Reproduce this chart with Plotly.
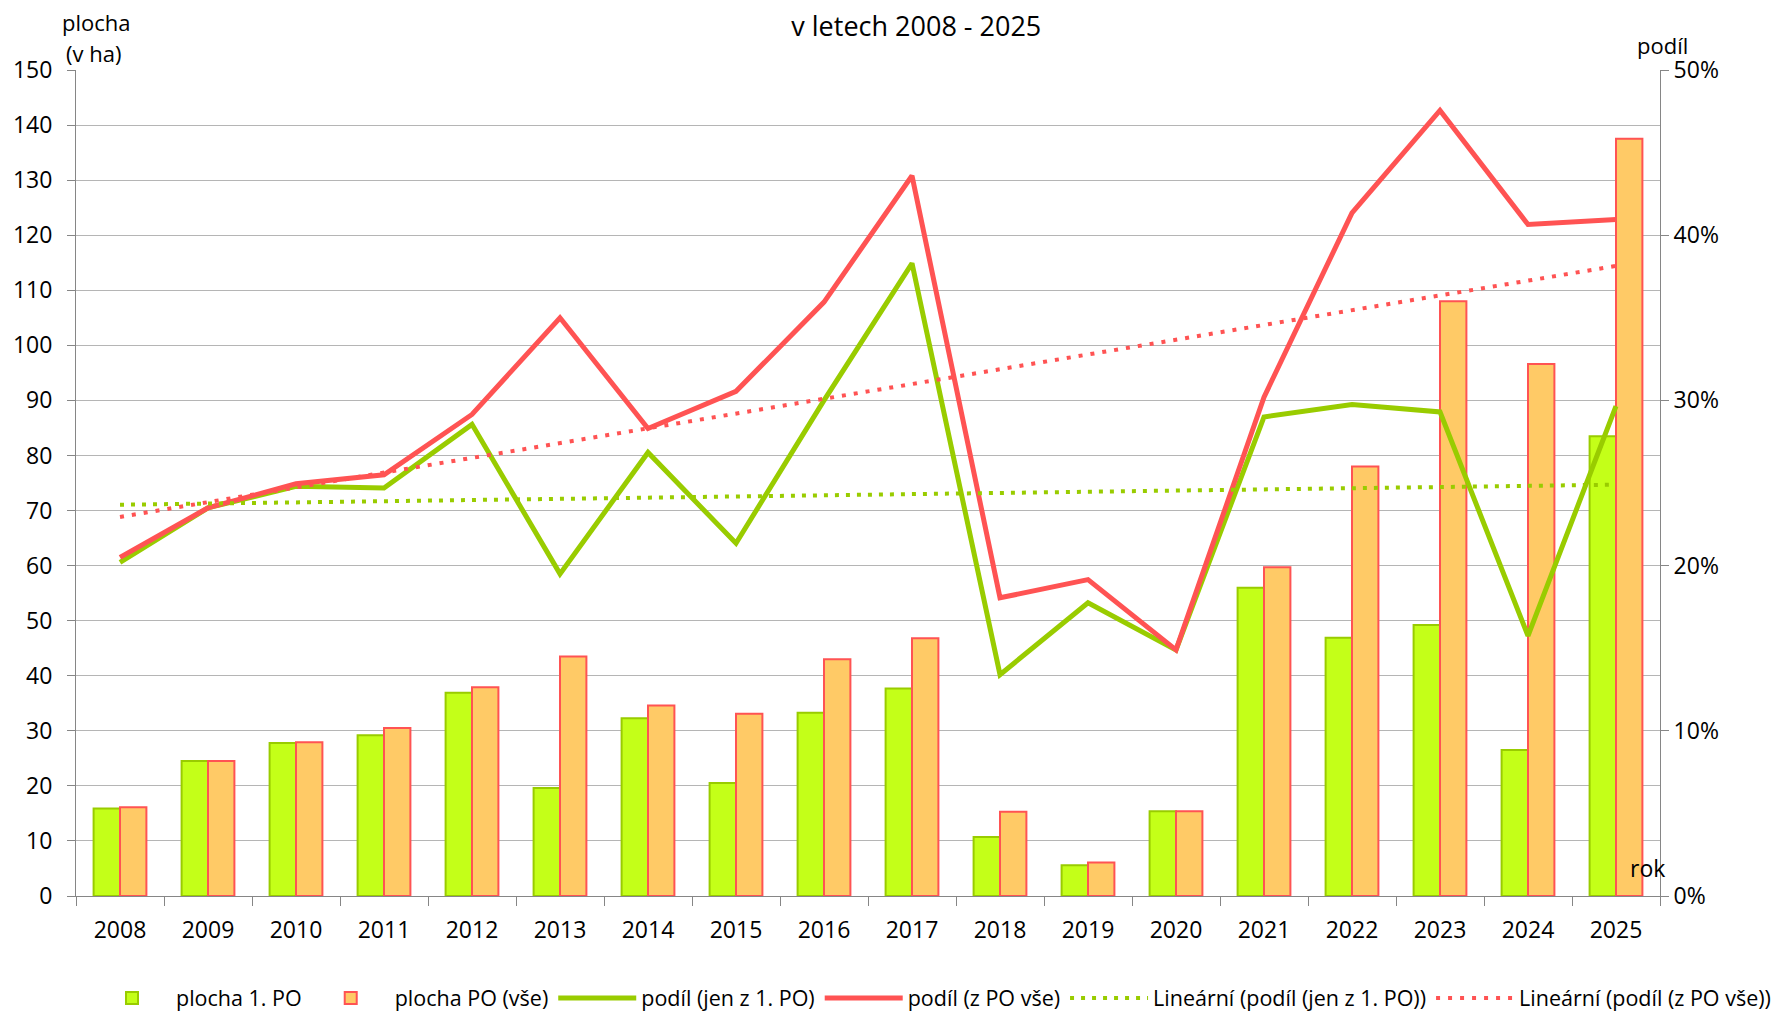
import numpy as np
import plotly.graph_objects as go

years = ["2008", "2009", "2010", "2011", "2012", "2013", "2014", "2015", "2016",
         "2017", "2018", "2019", "2020", "2021", "2022", "2023", "2024", "2025"]
plocha_1po = [15.9, 24.5, 27.8, 29.2, 36.9, 19.6, 32.3, 20.5, 33.3,
              37.7, 10.7, 5.6, 15.4, 56.0, 46.9, 49.2, 26.5, 83.5]
plocha_vse = [16.1, 24.5, 27.9, 30.5, 37.9, 43.5, 34.6, 33.1, 43.0,
              46.8, 15.3, 6.1, 15.4, 59.7, 78.0, 108.0, 96.6, 137.5]
podil_1po = [20.2, 23.5, 24.8, 24.7, 28.55, 19.5, 26.85, 21.35, 30.0,
             38.3, 13.4, 17.75, 14.9, 29.0, 29.75, 29.3, 15.75, 29.65]
podil_vse = [20.5, 23.5, 24.95, 25.5, 29.15, 35.0, 28.3, 30.55, 35.95,
             43.6, 18.05, 19.15, 14.9, 30.2, 41.35, 47.55, 40.65, 40.95]

idx = np.arange(len(years))
def trend(vals):
    k, q = np.polyfit(idx, np.array(vals) / 100.0, 1)
    return k * idx + q

FONT = "Open Sans"
GREEN_FILL, GREEN_LINE = "#C4FF18", "#99CC00"
ORANGE_FILL, RED_LINE = "#FFCA66", "#FF5353"

fig = go.Figure()
fig.add_trace(go.Bar(x=years, y=plocha_1po, name="plocha 1. PO",
                     marker=dict(color=GREEN_FILL, line=dict(color=GREEN_LINE, width=2))))
fig.add_trace(go.Bar(x=years, y=plocha_vse, name="plocha PO (vše)",
                     marker=dict(color=ORANGE_FILL, line=dict(color=RED_LINE, width=2))))
fig.add_trace(go.Scatter(x=years, y=np.array(podil_1po) / 100, name="podíl (jen z 1. PO)",
                         mode="lines", yaxis="y2", line=dict(color=GREEN_LINE, width=5)))
fig.add_trace(go.Scatter(x=years, y=np.array(podil_vse) / 100, name="podíl (z PO vše)",
                         mode="lines", yaxis="y2", line=dict(color=RED_LINE, width=5)))
fig.add_trace(go.Scatter(x=years, y=trend(podil_1po), name="Lineární (podíl (jen z 1. PO))",
                         mode="lines", yaxis="y2",
                         line=dict(color=GREEN_LINE, width=4, dash="4px,7px")))
fig.add_trace(go.Scatter(x=years, y=trend(podil_vse), name="Lineární (podíl (z PO vše))",
                         mode="lines", yaxis="y2",
                         line=dict(color=RED_LINE, width=4, dash="4px,8px")))

W, H = 1781, 1011
L, R, T, B = 68, 1652, 62, 888

def px(x):
    return (x - L) / (R - L)

def py(y):
    return (B - y) / (B - T)

TICKF = dict(size=23)
fig.update_layout(
    width=W, height=H,
    margin=dict(l=L, r=W - R, t=T, b=H - B, autoexpand=False),
    paper_bgcolor="white", plot_bgcolor="white",
    font=dict(family=FONT, size=22, color="#000000"),
    barmode="group", bargap=0.4, bargroupgap=0.0,
    title=dict(text="v letech 2008 - 2025", x=0.51, xanchor="center",
               y=1 - 19 / H, yanchor="middle", yref="container",
               font=dict(family=FONT, size=27)),
    xaxis=dict(type="category", showgrid=False, showline=True, linecolor="#868686",
               linewidth=1, ticks="outside", tickson="boundaries", ticklen=9,
               tickcolor="#868686", tickfont=TICKF, zeroline=False,
               ticklabelstandoff=13),
    yaxis=dict(range=[0, 150], dtick=10, showgrid=True, gridcolor="#B5B5B5",
               gridwidth=1, showline=True, linecolor="#868686", ticks="outside",
               ticklen=8, tickcolor="#868686", tickfont=TICKF, zeroline=False,
               ticklabelstandoff=10),
    yaxis2=dict(range=[0, 0.5], dtick=0.1, tickformat=".0%", overlaying="y", side="right",
                showgrid=False, showline=True, linecolor="#868686", ticks="outside",
                ticklen=8, tickcolor="#868686", tickfont=TICKF, zeroline=False),
    legend=dict(orientation="h", x=px(1768), xanchor="right", xref="paper",
                y=py(990), yanchor="middle", yref="paper",
                font=dict(size=21.5), traceorder="normal", itemwidth=78),
    showlegend=True,
    annotations=[
        dict(text="plocha", x=px(52), y=py(14), xref="paper", yref="paper",
             xanchor="left", yanchor="middle", showarrow=False, font=dict(size=22)),
        dict(text="(v ha)", x=px(56), y=py(45), xref="paper", yref="paper",
             xanchor="left", yanchor="middle", showarrow=False, font=dict(size=22)),
        dict(text="podíl", x=px(1627), y=py(37), xref="paper", yref="paper",
             xanchor="left", yanchor="middle", showarrow=False, font=dict(size=22)),
        dict(text="rok", x=px(1639), y=py(B - 28), xref="paper", yref="paper",
             xanchor="center", yanchor="middle", showarrow=False, font=dict(size=23)),
    ],
)

fig.write_html("out.html")
